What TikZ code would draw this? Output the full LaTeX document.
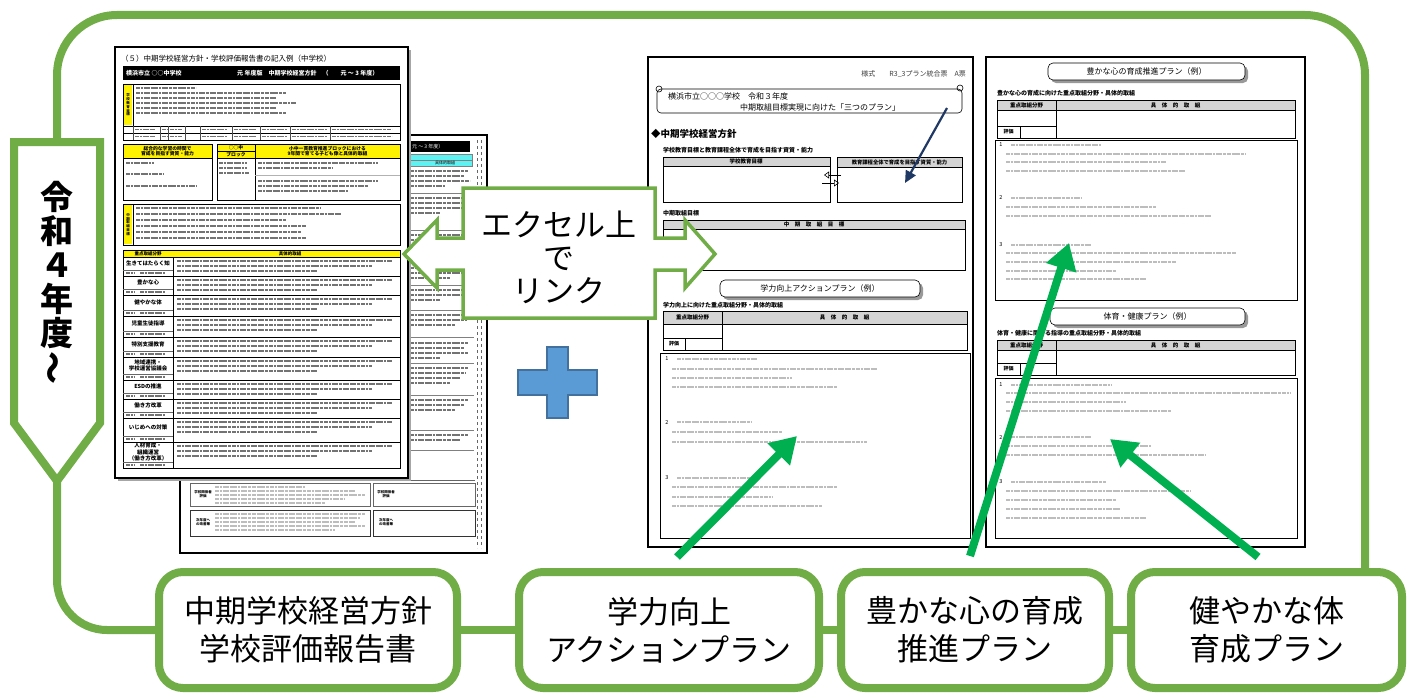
\documentclass[tikz,border=0pt]{standalone}
\usepackage{fontspec}
\setmainfont{Noto Sans CJK JP}
\usetikzlibrary{arrows.meta}
\definecolor{frameG}{HTML}{70AD47}
\definecolor{arrG}{HTML}{00B050}
\definecolor{plusB}{HTML}{5B9BD5}
\definecolor{plusD}{HTML}{41719C}
\definecolor{navyA}{HTML}{1F3864}
\definecolor{hdrG}{HTML}{D4D4D4}
\definecolor{cyanH}{HTML}{5EF2F2}
\newcommand\grl[3]{\draw[tline] (#1,#2) -- ++(#3,0);}
\newcommand\drl[3]{\draw[dline] (#1,#2) -- ++(#3,0);}
\begin{document}
\begin{tikzpicture}[x=1pt,y=-1pt,
 frame/.style={draw=frameG, line width=8pt},
 bigbox/.style={draw=frameG, line width=8pt, fill=white, rounded corners=24pt, inner sep=0pt, font=\fontsize{31}{38}\selectfont, align=center},
 doc/.style={draw=black, line width=2pt, fill=white},
 tline/.style={line width=1.2pt, black!26, dash pattern=on 4pt off 0.8pt on 2pt off 0.8pt on 6pt off 1pt on 3pt off 0.8pt},
 dline/.style={line width=1.2pt, black!55, dash pattern=on 4pt off 0.8pt on 2pt off 0.8pt on 6pt off 1pt on 3pt off 0.8pt},
 ttx/.style={inner sep=0pt, font=\fontsize{6}{7}\selectfont},
 ttb/.style={inner sep=0pt, font=\bfseries\fontsize{5.5}{6.2}\selectfont, align=center},
 thin/.style={line width=0.6pt},
 garrow/.style={draw=arrG, line width=8pt, -{Triangle[length=26pt,width=30pt]}},
]
\useasboundingbox (0,0) rectangle (1410,693);

% ---------- bottom boxes ----------
\node[bigbox, minimum width=298pt, minimum height=116pt] (b1) at (308,630) {中期学校経営方針\\学校評価報告書};
\node[bigbox, minimum width=300pt, minimum height=116pt] (b2) at (669,630) {学力向上\\アクションプラン};
\node[bigbox, minimum width=268pt, minimum height=116pt] (b3) at (975,630) {豊かな心の育成\\推進プラン};
\node[bigbox, minimum width=271pt, minimum height=116pt] (b4) at (1266.5,630) {健やかな体\\育成プラン};

% ---------- frame ----------
\coordinate (pentop) at (57,142);
\coordinate (penbot) at (57,481);
\coordinate (rdown) at (1365,572);
\draw[frame, rounded corners=60pt] (pentop) -- (57,15) -- (1365,15) -- (rdown);
\draw[frame, rounded corners=50pt] (penbot) -- (57,630) -- (b1.west);
\draw[frame] (b1.east) -- (b2.west) (b2.east) -- (b3.west) (b3.east) -- (b4.west);

% pennant
\draw[frame, fill=white, line join=miter] (14,142) -- (100,142) -- (100,423) -- (57,481) -- (14,423) -- cycle;
\node[font=\bfseries\fontsize{33}{34}\selectfont, align=center, inner sep=0pt] (ptxt) at (57,265) {令\\和\\４\\年\\度};
\node[font=\bfseries\fontsize{33}{34}\selectfont, inner sep=0pt, rotate=90] (ptil) at (57,368) {～};

% ---------- document A (back) ----------
\draw[doc] (180,135) rectangle (487,553);
\fill[black] (408,141) rectangle (470,152);
\node[ttx, white, anchor=west, font=\fontsize{5}{6}\selectfont] (abh) at (412,146.5) {元 ～ 3 年度）};
\draw[fill=cyanH, draw=black!50, line width=0.4pt] (408,154) rectangle (472,166);
\draw[black!50, line width=0.4pt] (408,160) -- (472,160);
\node[ttx, font=\fontsize{4}{5}\selectfont] (abc) at (445,163) {具体的取組};
\draw[dashed, black!60, thin] (477,140) -- (477,548);
\draw[dashed, black!60, thin] (481,140) -- (481,548);
\foreach \yy/\ww in {171/58,176/55,181/60,186/35, 198/58,203/52,208/58,213/30, 235/58,240/56,245/44,250/58, 268/55,273/58,278/40, 290/58,295/52,300/30, 315/58,320/57,325/45, 343/58,348/54,353/58,358/30, 368/58,373/56,378/50,383/40, 400/58,405/55,410/45, 435/58,440/50}
  {\drl{410}{\yy}{\ww}}
\foreach \yy in {193,230,263,285,310,337,363,395,430,450}
  {\draw[black!50, line width=0.5pt] (408,\yy) -- (474,\yy);}
\draw[black!60, thin] (180,480) -- (475,480);
\draw[black!60, thin] (190,483) rectangle (370,506);
\draw[black!60, thin] (373,483) rectangle (475,506);
\draw[black!80, line width=1pt] (190,510) rectangle (370,536);
\draw[black!80, line width=1pt] (373,510) rectangle (475,536);
\node[ttx, font=\bfseries\fontsize{3.5}{4}\selectfont, align=center] (abl1) at (203,494) {学校関係者\\評価};
\node[ttx, font=\bfseries\fontsize{3.5}{4}\selectfont, align=center] (abl2) at (386,494) {学校関係者\\評価};
\node[ttx, font=\bfseries\fontsize{3.5}{4}\selectfont, align=center] (abl3) at (203,522) {次年度へ\\の改善策};
\node[ttx, font=\bfseries\fontsize{3.5}{4}\selectfont, align=center] (abl4) at (386,522) {次年度へ\\の改善策};
\foreach \yy/\ww in {487/90,491/140,495/150,499/130,503/110} {\grl{215}{\yy}{\ww}}
\foreach \yy/\ww in {514/150,518/145,522/140,526/150,530/120} {\grl{215}{\yy}{\ww}}

% ---------- document A (front) ----------
\fill[black!35] (118,50) rectangle (411,481);
\draw[doc, line width=2.5pt] (115,47) rectangle (408,478);
\node[ttx, anchor=west, font=\fontsize{7.5}{8}\selectfont] (atitle) at (121,59) {（５）中期学校経営方針・学校評価報告書の記入例（中学校）};
\fill[black] (123,66) rectangle (400,80);
\node[ttx, white, anchor=west, font=\bfseries\fontsize{6}{7}\selectfont] (abar1) at (126,73) {横浜市立 ○○中学校};
\node[ttx, white, anchor=west, font=\bfseries\fontsize{6}{7}\selectfont] (abar2) at (237,73) {元 年度版　中期学校経営方針　（　　元 ～ 3 年度）};
% box 1
\draw[thin] (123,84) rectangle (400,140);
\fill[yellow] (124,85) rectangle (132,125);
\draw[thin] (123,126) -- (400,126);
\draw[thin] (133,84) -- (133,126);
\node[ttx, font=\bfseries\fontsize{3.5}{3.8}\selectfont, align=center] (al1) at (128,105) {学\\校\\教\\育\\目\\標};
\foreach \yy/\ww in {88/60,93/150,98/140,103/160,108/140,113/150} {\drl{136}{\yy}{\ww}}
\draw[thin] (123,133) -- (400,133);
\foreach \xx in {133,160,168,185,200,232,260,290,330} {\draw[black!70, line width=0.4pt] (\xx,126) -- (\xx,140);}
\foreach \xx/\ww in {135/20,162/5,170/12,202/25,234/22,262/25,292/35,332/60} {\drl{\xx}{129.5}{\ww}}
\foreach \xx/\ww in {135/20,162/5,170/12,202/25,234/22,262/25,292/35,332/60} {\drl{\xx}{136.5}{\ww}}
% yellow headers
\draw[thin, fill=yellow] (123,144) rectangle (212,158);
\draw[thin, fill=yellow] (217,144) rectangle (255,151);
\draw[thin, fill=yellow] (217,151) rectangle (255,158);
\draw[thin, fill=yellow] (255,144) rectangle (400,158);
\node[ttb, font=\bfseries\fontsize{4.8}{5.5}\selectfont] (ah1) at (167.5,151) {総合的な学習の時間で\\育成を目指す資質・能力};
\node[ttb, font=\bfseries\fontsize{4.8}{5.5}\selectfont] (ah2) at (236,147.5) {○○中};
\node[ttb, font=\bfseries\fontsize{4.8}{5.5}\selectfont] (ah3) at (236,154.5) {ブロック};
\node[ttb, font=\bfseries\fontsize{4.8}{5.5}\selectfont] (ah4) at (327.5,151) {小中一貫教育推進ブロックにおける\\9年間で育てる子ども像と具体的取組};
\draw[thin] (123,158) rectangle (212,200);
\draw[thin] (217,158) rectangle (400,200);
\draw[thin] (255,158) -- (255,200);
\draw[black!30, line width=0.4pt] (255,175) -- (400,175);
\foreach \yy/\ww in {163/28,174/38,186/70} {\drl{126}{\yy}{\ww}}
\foreach \yy/\ww in {163/28,168/28,173/30} {\drl{219}{\yy}{\ww}}
\foreach \yy/\ww in {163/120,168/75,181/120,186/110,191/90} {\drl{258}{\yy}{\ww}}
% box 3
\draw[thin] (123,204) rectangle (400,245);
\fill[yellow] (124,205) rectangle (132,244);
\draw[thin] (133,204) -- (133,245);
\node[ttx, font=\bfseries\fontsize{3.5}{3.8}\selectfont, align=center] (al2) at (128,224.5) {中\\期\\取\\組\\目\\標};
\foreach \yy/\ww in {208/185,214/205,220/150,226/170,232/165,238/170} {\drl{136}{\yy}{\ww}}
% table
\draw[thin, fill=yellow] (123,250) rectangle (400,257);
\node[ttb, font=\bfseries\fontsize{4.5}{5}\selectfont] (ath1) at (148,253.5) {重点取組分野};
\node[ttb, font=\bfseries\fontsize{4.5}{5}\selectfont] (ath2) at (290,253.5) {具体的取組};
\draw[line width=1pt] (123,257) rectangle (400,468);
\draw[thin] (173,257) -- (173,468);
\foreach \t/\b/\l in {257/276/{生きてはたらく知},276/295/{豊かな心},295/316/{健やかな体},316/337/{児童生徒指導},337/357/{特別支援教育},357/380/{地域連携・\\学校運営協議会},380/399/{ESDの推進},399/418/{働き方改革},418/442/{いじめへの対策},442/468/{人材育成・\\組織運営\\（働き方改革）}}
 {
  \draw[thin] (123,\b) -- (400,\b);
  \draw[black!60, line width=0.4pt] (123,\b-6) -- (173,\b-6);
  \node[ttb] (al\t) at (148,{\t+(\b-\t-6)*0.5}) {\l};
  \drl{126}{\b-3}{8}
  \drl{140}{\b-3}{25}
  \drl{177}{\t+4}{215}
  \drl{177}{\t+9}{195}
  \drl{177}{\t+14}{140}
 }

% ---------- document B ----------
\draw[doc, line width=2.5pt] (648,57) rectangle (973,547);
\node[ttx, anchor=east, font=\fontsize{7}{8}\selectfont, black!75] (bh) at (966,74) {様式　　R3\_3プラン統合票　A票};
\draw[thin, rounded corners=4pt] (657,89) rectangle (962,113);
\draw[thin] (659,89) circle (3pt);
\draw[thin] (960,88) circle (3pt);
\node[ttx, anchor=west, font=\fontsize{8}{9}\selectfont] (bs1) at (668,96) {横浜市立○○○学校　令和３年度};
\node[ttx, font=\fontsize{8}{9}\selectfont] (bs2) at (820,107) {中期取組目標実現に向けた「三つのプラン」};
\node[ttx, anchor=west, font=\bfseries\fontsize{9.5}{10}\selectfont] (bm) at (651,134) {◆中期学校経営方針};
\node[ttx, anchor=west, font=\bfseries\fontsize{6}{7}\selectfont] (bm2) at (663,150) {学校教育目標と教育課程全体で育成を目指す資質・能力};
\draw[thin, fill=hdrG] (663,157) rectangle (830,166);
\draw[thin] (663,166) rectangle (830,202);
\node[ttx, font=\bfseries\fontsize{5.5}{6}\selectfont] (bk1) at (746,161.5) {学校教育目標};
\draw[thin, fill=hdrG] (837,157) rectangle (962,167);
\draw[thin] (837,167) rectangle (962,202);
\node[ttx, font=\bfseries\fontsize{5.3}{6}\selectfont] (bk2) at (899.5,162) {教育課程全体で育成を目指す資質・能力};
\draw[line width=0.6pt, -{Triangle[open,length=5pt,width=7pt]}] (841,175) -- (824,175);
\draw[line width=0.6pt, -{Triangle[open,length=5pt,width=7pt]}] (822,183) -- (839,183);
\node[ttx, anchor=west, font=\bfseries\fontsize{6}{7}\selectfont] (bc) at (663,213) {中期取組目標};
\draw[thin, fill=hdrG] (663,220) rectangle (965,229);
\draw[thin] (663,229) rectangle (965,270);
\node[ttx, font=\bfseries\fontsize{5.5}{6}\selectfont] (bc2) at (814,224.5) {中　期　取　組　目　標};
\fill[black!40, rounded corners=5pt] (723,283) rectangle (923,300);
\draw[thin, fill=white, rounded corners=5pt] (720,280) rectangle (920,297);
\node[ttx, font=\fontsize{8}{9}\selectfont] (bp) at (820,288.5) {学力向上アクションプラン（例）};
\node[ttx, anchor=west, font=\bfseries\fontsize{6}{7}\selectfont] (bp2) at (663,305) {学力向上に向けた重点取組分野・具体的取組};
\draw[thin, fill=hdrG] (663,311) rectangle (967,324);
\draw[thin] (663,324) rectangle (967,350);
\draw[thin] (722,311) -- (722,350);
\draw[thin] (663,338) -- (722,338);
\draw[thin] (685,338) -- (685,350);
\node[ttx, font=\bfseries\fontsize{5.5}{6}\selectfont] (bt1) at (692.5,317.5) {重点取組分野};
\node[ttx, font=\bfseries\fontsize{5.5}{6}\selectfont] (bt2) at (844.5,317.5) {具　体　的　取　組};
\node[ttx, font=\bfseries\fontsize{5}{6}\selectfont] (bt3) at (674,344) {評価};
\draw[thin] (660,353) rectangle (970,538);
\node[ttx, font=\fontsize{5.5}{6}\selectfont] (bn1) at (667,359) {1};
\node[ttx, font=\fontsize{5.5}{6}\selectfont] (bn2) at (667,422) {2};
\node[ttx, font=\fontsize{5.5}{6}\selectfont] (bn3) at (667,478) {3};
\grl{677}{359}{80} \grl{672}{369}{205} \grl{672}{378}{120} \grl{672}{387}{165}
\grl{677}{422}{75} \grl{672}{432}{110} \grl{672}{442}{195}
\grl{677}{478}{75} \grl{672}{487}{165} \grl{672}{497}{100} \grl{672}{506}{150}

% ---------- document C ----------
\draw[doc, line width=2.5pt] (986,57) rectangle (1305,547);
\fill[black!40, rounded corners=5pt] (1051,66) rectangle (1248,83);
\draw[thin, fill=white, rounded corners=5pt] (1048,63) rectangle (1245,80);
\node[ttx, font=\fontsize{8}{9}\selectfont] (cp1) at (1146.5,71.5) {豊かな心の育成推進プラン（例）};
\node[ttx, anchor=west, font=\bfseries\fontsize{6}{7}\selectfont] (cp1b) at (997,93) {豊かな心の育成に向けた重点取組分野・具体的取組};
\draw[thin, fill=hdrG] (997,100) rectangle (1295,110);
\draw[thin] (997,110) rectangle (1295,138);
\draw[thin] (1056,100) -- (1056,138);
\draw[thin] (997,126) -- (1056,126);
\draw[thin] (1020,126) -- (1020,138);
\node[ttx, font=\bfseries\fontsize{5.5}{6}\selectfont] (ct1) at (1026.5,105) {重点取組分野};
\node[ttx, font=\bfseries\fontsize{5.5}{6}\selectfont] (ct2) at (1175.5,105) {具　体　的　取　組};
\node[ttx, font=\bfseries\fontsize{5}{6}\selectfont] (ct3) at (1008.5,132) {評価};
\draw[line width=1pt] (995,140) rectangle (1297,300);
\node[ttx, font=\fontsize{5.5}{6}\selectfont] (cn1) at (1001,145) {1};
\node[ttx, font=\fontsize{5.5}{6}\selectfont] (cn2) at (1001,198) {2};
\node[ttx, font=\fontsize{5.5}{6}\selectfont] (cn3) at (1001,245) {3};
\grl{1011}{145}{90} \grl{1006}{154}{240} \grl{1006}{162}{160} \grl{1006}{171}{180}
\grl{1011}{198}{70} \grl{1006}{207}{150} \grl{1006}{216}{205}
\grl{1011}{245}{80} \grl{1006}{253}{230} \grl{1006}{262}{170} \grl{1006}{271}{110} \grl{1006}{279}{140}
\fill[black!40, rounded corners=5pt] (1053,311) rectangle (1248,328);
\draw[thin, fill=white, rounded corners=5pt] (1050,308) rectangle (1245,325);
\node[ttx, font=\fontsize{8}{9}\selectfont] (cp2) at (1147.5,316.5) {体育・健康プラン（例）};
\node[ttx, anchor=west, font=\bfseries\fontsize{6}{7}\selectfont] (cp2b) at (997,333) {体育・健康に関する指導の重点取組分野・具体的取組};
\draw[thin, fill=hdrG] (997,340) rectangle (1295,350);
\draw[thin] (997,350) rectangle (1295,375);
\draw[thin] (1056,340) -- (1056,375);
\draw[thin] (997,363) -- (1056,363);
\draw[thin] (1020,363) -- (1020,375);
\node[ttx, font=\bfseries\fontsize{5.5}{6}\selectfont] (ct4) at (1026.5,345) {重点取組分野};
\node[ttx, font=\bfseries\fontsize{5.5}{6}\selectfont] (ct5) at (1175.5,345) {具　体　的　取　組};
\node[ttx, font=\bfseries\fontsize{5}{6}\selectfont] (ct6) at (1008.5,369) {評価};
\draw[line width=1pt] (995,378) rectangle (1297,538);
\node[ttx, font=\fontsize{5.5}{6}\selectfont] (cn4) at (1001,385) {1};
\node[ttx, font=\fontsize{5.5}{6}\selectfont] (cn5) at (1001,437) {2};
\node[ttx, font=\fontsize{5.5}{6}\selectfont] (cn6) at (1001,482) {3};
\grl{1011}{385}{100} \grl{1006}{393}{285} \grl{1006}{402}{120} \grl{1006}{411}{165}
\grl{1011}{437}{80} \grl{1006}{446}{145} \grl{1006}{455}{200}
\grl{1011}{482}{95} \grl{1006}{491}{185} \grl{1006}{500}{110} \grl{1006}{509}{115} \grl{1006}{518}{140}

% ---------- navy arrow ----------
\coordinate (nvs) at (947,108);
\coordinate (nve) at (905,183);
\draw[navyA, line width=2.2pt, -{Triangle[length=12pt,width=11pt]}] (nvs) -- (nve);

% ---------- excel link double arrow ----------
\draw[draw=frameG, line width=3.5pt, fill=white, line join=miter]
  (404,254) -- (437,220) -- (437,238) -- (463,238) -- (463,188) -- (655,188) -- (655,238) -- (685,238) -- (685,220) -- (715,254) -- (685,288) -- (685,270) -- (655,270) -- (655,318) -- (463,318) -- (463,270) -- (437,270) -- (437,288) -- cycle;
\node[font=\fontsize{31}{33}\selectfont, align=center, inner sep=0pt] (xl) at (559,257) {エクセル上\\で\\リンク};

% ---------- blue plus ----------
\draw[fill=plusB, draw=plusD, line width=1.5pt]
  (547,347) -- (568,347) -- (568,370) -- (597,370) -- (597,395) -- (568,395) -- (568,418) -- (547,418) -- (547,395) -- (518,395) -- (518,370) -- (547,370) -- cycle;

% ---------- green arrows ----------
\coordinate (g1s) at (677,557); \coordinate (g1e) at (797,436);
\coordinate (g2s) at (970,556); \coordinate (g2e) at (1069,243);
\coordinate (g3s) at (1258,557); \coordinate (g3e) at (1110,439);
\draw[garrow] (g1s) -- (g1e);
\draw[garrow] (g2s) -- (g2e);
\draw[garrow] (g3s) -- (g3e);
\end{tikzpicture}
\end{document}
